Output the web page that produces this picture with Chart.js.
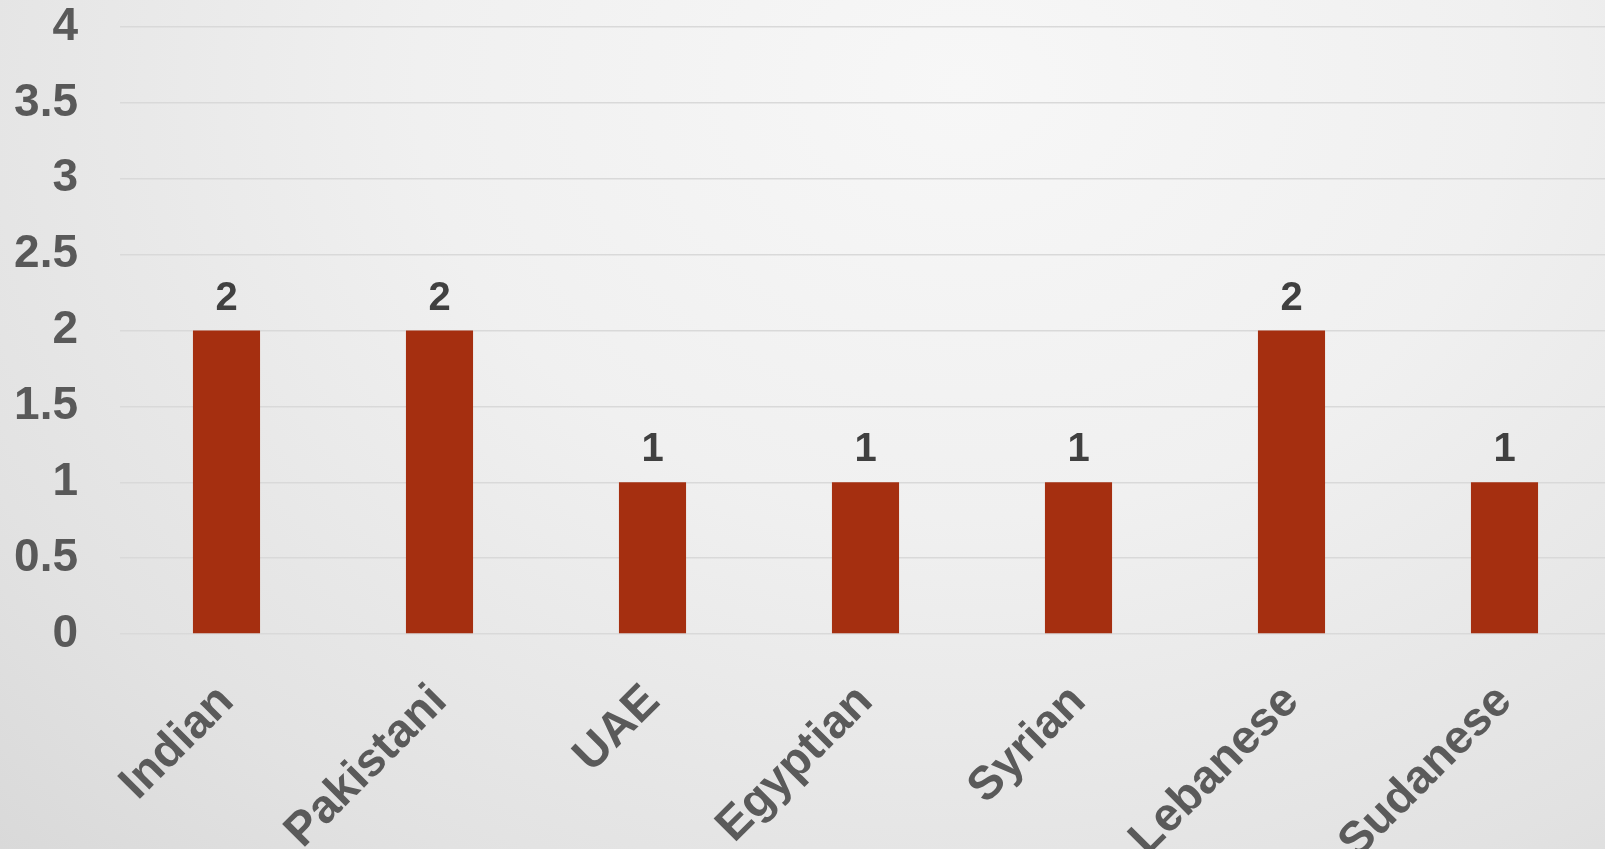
<!DOCTYPE html>
<html>
<head>
<meta charset="utf-8">
<script src="https://cdn.jsdelivr.net/npm/chart.js@4/dist/chart.umd.min.js"></script>
<style>
  html, body { margin: 0; padding: 0; overflow: hidden; }
  body {
    width: 1605px; height: 849px;
    background: radial-gradient(ellipse at 60% 10%, #f7f7f7 0%, #f0f0f0 40%, #e2e2e2 80%, #d9d9d9 100%);
  }
  canvas { display: block; }
</style>
</head>
<body>
<canvas id="chart" width="1611" height="849"></canvas>
<script>
// --- data ---
const categories = ['Indian', 'Pakistani', 'UAE', 'Egyptian', 'Syrian', 'Lebanese', 'Sudanese']
const counts = [2, 2, 1, 1, 1, 2, 1]
const yTicks = [0, 0.5, 1, 1.5, 2, 2.5, 3, 3.5, 4]

const FONT = '"Liberation Sans", Arial, sans-serif'

// value labels above each bar, placed from the bar elements
const valueLabels = {
  id: 'valueLabels',
  afterDatasetsDraw(chart) {
    const ctx = chart.ctx
    const meta = chart.getDatasetMeta(0)
    ctx.save()
    ctx.font = `bold 40px ${FONT}`
    ctx.fillStyle = '#404040'
    ctx.textAlign = 'center'
    ctx.textBaseline = 'bottom'
    meta.data.forEach((bar, i) => {
      ctx.fillText(String(counts[i]), bar.x, bar.y - 12)
    })
    ctx.restore()
  },
}

new Chart(document.getElementById('chart'), {
  type: 'bar',
  data: {
    labels: categories,
    datasets: [
      {
        data: counts,
        backgroundColor: '#a52f10',
        categoryPercentage: 1,
        barPercentage: 0.315,
      },
    ],
  },
  options: {
    responsive: false,
    animation: false,
    layout: { padding: { top: 27, right: 0, left: 0, bottom: 0 } },
    plugins: { legend: { display: false }, tooltip: { enabled: false } },
    scales: {
      x: {
        grid: { display: false, drawTicks: false },
        border: { display: false },
        ticks: {
          color: '#5a5a5a',
          font: { family: FONT, size: 47, weight: 'bold' },
          minRotation: 45,
          maxRotation: 45,
          padding: 40,
        },
        afterFit(scale) {
          scale.height = 215
          scale.paddingLeft = 0
          scale.paddingRight = 0
        },
      },
      y: {
        min: 0,
        max: 4,
        grid: { color: '#d9d9d9', lineWidth: 1.5, drawTicks: false },
        border: { display: false },
        afterBuildTicks(scale) { scale.ticks = yTicks.map(v => ({ value: v })) },
        ticks: {
          color: '#595959',
          font: { family: FONT, size: 46, weight: 'bold' },
          padding: 42,
          callback: v => String(v),
        },
        afterFit(scale) {
          scale.width = 120
          scale.paddingTop = 0
          scale.paddingBottom = 0
        },
      },
    },
  },
  plugins: [valueLabels],
})
</script>
</body>
</html>
